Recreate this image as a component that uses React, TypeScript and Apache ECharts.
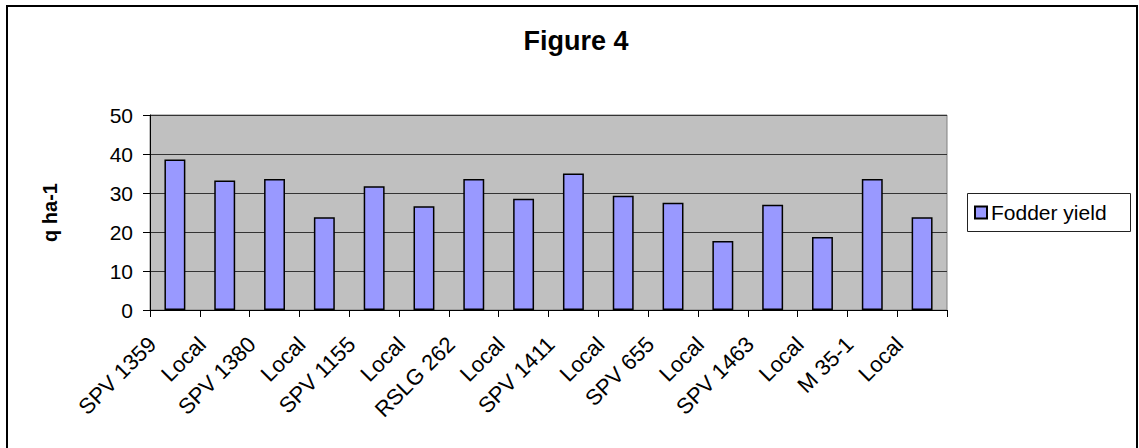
import React, { useEffect, useRef } from "react";
import * as echarts from "echarts";

const categories = [
  "SPV 1359", "Local", "SPV 1380", "Local", "SPV 1155", "Local", "RSLG 262", "Local",
  "SPV 1411", "Local", "SPV 655", "Local", "SPV 1463", "Local", "M 35-1", "Local",
];
const fodderYield = [38.6, 33.2, 33.6, 23.8, 31.7, 26.6, 33.6, 28.5, 35.0, 29.3, 27.5, 17.7, 27.0, 18.7, 33.6, 23.8];
const seriesName = "Fodder yield";
const titleText = "Figure 4";
const yAxisTitle = "q ha-1";
const yMin = 0;
const yMax = 50;
const yInterval = 10;

const FONT = "Liberation Sans, Arial, sans-serif";

export default function App() {
  const ref = useRef<HTMLDivElement>(null);
  useEffect(() => {
    if (!ref.current) return;
    const chart = echarts.init(ref.current, undefined, { renderer: "svg" });
    chart.setOption({
      animation: false,
      backgroundColor: "#ffffff",
      textStyle: { fontFamily: FONT },
      title: {
        text: titleText,
        left: 571,
        textAlign: "center",
        top: 22,
        textStyle: { fontFamily: FONT, fontSize: 27, fontWeight: "bold", color: "#000" },
      },
      graphic: [
        {
          type: "rect",
          shape: { x: 7, y: 6, width: 1130, height: 460 },
          style: { fill: "none", stroke: "#000", lineWidth: 2 },
          z: 100,
        },
        {
          type: "rect",
          shape: { x: 967.5, y: 193.5, width: 163, height: 38 },
          style: { fill: "#fff", stroke: "#222", lineWidth: 1 },
          z: 1,
        },
      ],
      legend: {
        data: [seriesName],
        left: 970,
        top: 198,
        padding: [4, 4, 4, 4],
        icon: "rect",
        itemWidth: 12,
        itemHeight: 12,
        itemGap: 8,
        z: 5,
        textStyle: { fontFamily: FONT, fontSize: 21, color: "#000", padding: [0, 0, 0, -1] },
      },
      grid: {
        left: 150,
        right: 192,
        top: 115,
        bottom: 138,
        show: true,
        backgroundColor: "#C0C0C0",
        borderColor: "#808080",
        borderWidth: 1,
      },
      xAxis: {
        type: "category",
        data: categories,
        boundaryGap: true,
        axisLine: { show: true, lineStyle: { color: "#000", width: 1 } },
        axisTick: { show: true, length: 7, alignWithLabel: false, lineStyle: { color: "#000" } },
        axisLabel: {
          interval: 0,
          rotate: 45,
          margin: 8,
          fontFamily: FONT,
          fontSize: 22,
          color: "#000",
          padding: [0, 32, 0, 0],
        },
        splitLine: { show: false },
      },
      yAxis: {
        type: "value",
        min: yMin,
        max: yMax,
        interval: yInterval,
        name: yAxisTitle,
        nameLocation: "middle",
        nameRotate: 90,
        nameGap: 90,
        nameTextStyle: { fontFamily: FONT, fontSize: 20, fontWeight: "bold", color: "#000" },
        axisLine: { show: true, lineStyle: { color: "#000", width: 1 } },
        axisTick: { show: true, length: 7, lineStyle: { color: "#000" } },
        axisLabel: { margin: 17, fontFamily: FONT, fontSize: 21, color: "#000" },
        splitLine: { show: true, lineStyle: { color: "#333", width: 1 } },
      },
      series: [
        {
          name: seriesName,
          type: "bar",
          data: fodderYield,
          barWidth: "42%",
          itemStyle: { color: "#9999FF", borderColor: "#000", borderWidth: 1.5 },
        },
      ],
    });
    return () => chart.dispose();
  }, []);
  return (
    <div
      ref={ref}
      style={{ position: "absolute", left: 0, top: 0, width: 1139, height: 448 }}
    />
  );
}
